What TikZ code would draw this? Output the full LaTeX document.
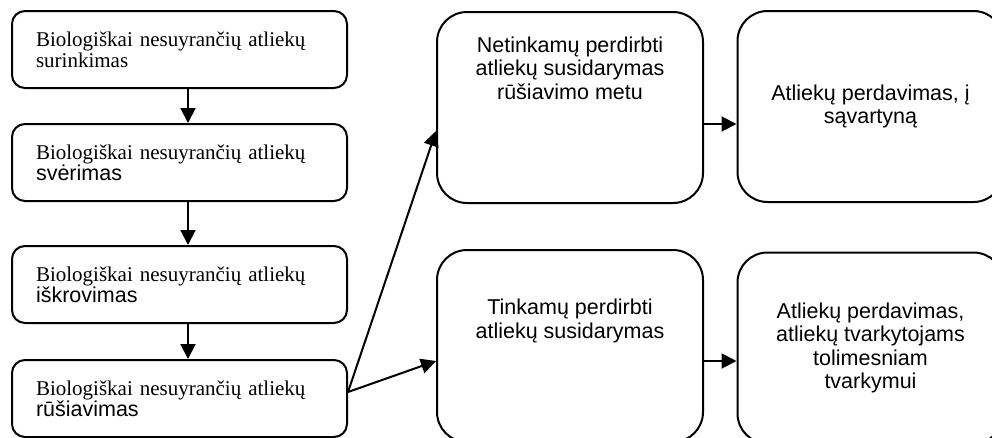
\documentclass[tikz,border=0pt]{standalone}
\usepackage{fontspec}
\setmainfont{Liberation Serif}
\setsansfont{Liberation Sans}
\usetikzlibrary{arrows.meta}

\tikzset{
	stepbox/.style={draw,line width=2pt,rounded corners=13pt,minimum width=335pt,minimum height=77pt,inner xsep=24pt,inner ysep=0pt,text width=287pt,align=left,font=\fontsize{21}{21}\selectfont},
	bigbox/.style={draw,line width=2pt,rounded corners=30pt,minimum width=266pt,minimum height=191pt,inner xsep=6pt,inner ysep=0pt,align=center,font=\sffamily\fontsize{21.5}{23.3}\selectfont},
	link/.style={line width=2pt,-{Triangle[length=15pt,width=15pt]}}
}

\begin{document}
\begin{tikzpicture}[x=1pt,y=-1pt]
	\useasboundingbox (0,0) rectangle (992,437);
	\clip (0,0) rectangle (992,437);
	\node[stepbox] (surinkimas) at (179.5,49.5) {Biologiškai nesuyrančių atliekų\\surinkimas};
	\node[stepbox] (sverimas) at (179.5,162.5) {Biologiškai nesuyrančių atliekų\\{\sffamily\fontsize{21.5}{21}\selectfont svėrimas}};
	\node[stepbox] (iskrovimas) at (179.5,284.5) {Biologiškai nesuyrančių atliekų\\{\sffamily\fontsize{21.5}{21}\selectfont iškrovimas}};
	\node[stepbox] (rusiavimas) at (179.5,398.5) {Biologiškai nesuyrančių atliekų\\{\sffamily\fontsize{21.5}{21}\selectfont rūšiavimas}};
	\node[bigbox,anchor=north,text height=87pt,text depth=104pt] (netinkamos) at (570,11) {Netinkamų perdirbti\\atliekų susidarymas\\rūšiavimo metu};
	\node[bigbox,anchor=north,text height=88pt,text depth=104pt] (tinkamos) at (570,249) {Tinkamų perdirbti\\atliekų susidarymas};
	\node[bigbox] (savartynas) at (870.5,106.5) {Atliekų perdavimas, į\\sąvartyną};
	\node[bigbox] (tvarkytojai) at (870.5,348) {Atliekų perdavimas,\\atliekų tvarkytojams\\tolimesniam\\tvarkymui};
	\coordinate (split) at ([yshift=6.5pt]rusiavimas.east);
	\draw[link] ([xshift=8.5pt]surinkimas.south) -- ([xshift=8.5pt]sverimas.north);
	\draw[link] ([xshift=8.5pt]sverimas.south) -- ([xshift=8.5pt]iskrovimas.north);
	\draw[link] ([xshift=8.5pt]iskrovimas.south) -- ([xshift=8.5pt]rusiavimas.north);
	\draw[link] (split) -- ([yshift=-23.5pt]netinkamos.west);
	\draw[link] (split) -- ([yshift=-15pt]tinkamos.west);
	\draw[link] ([yshift=-16.5pt]netinkamos.east) -- ([yshift=-16.5pt]netinkamos.east -| savartynas.west);
	\draw[link] ([yshift=-15pt]tinkamos.east) -- ([yshift=-15pt]tinkamos.east -| tvarkytojai.west);
\end{tikzpicture}
\end{document}
